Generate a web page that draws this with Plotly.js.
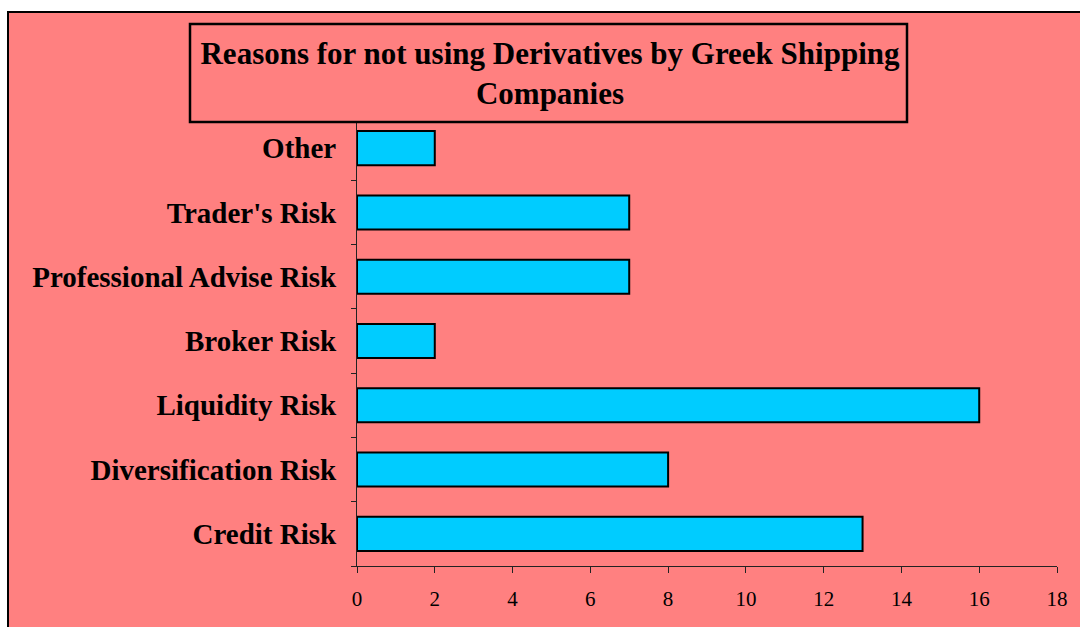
<!DOCTYPE html>
<html>
<head>
<meta charset="utf-8">
<script src="https://cdn.plot.ly/plotly-3.0.1.min.js"></script>
<style>html,body{margin:0;padding:0;background:#fff;}#chart{width:1080px;height:627px;}</style>
</head>
<body>
<div id="chart"></div>
<script>
const categories = ["Credit Risk", "Diversification Risk", "Liquidity Risk", "Broker Risk", "Professional Advise Risk", "Trader's Risk", "Other"];
const values = [13, 8, 16, 2, 7, 7, 2];
const xTicks = [0, 2, 4, 6, 8, 10, 12, 14, 16, 18];

const W = 1080, H = 627;
const L = 357, R = 1057, T = 116, B = 566;
const px = x => (x - L) / (R - L);
const py = y => (B - y) / (B - T);

const trace = {
  type: 'bar',
  orientation: 'h',
  x: values,
  y: categories,
  marker: {color: '#00CCFF', line: {color: '#000', width: 2}},
  hoverinfo: 'x+y'
};

const layout = {
  width: W, height: H,
  margin: {l: L, r: W - R, t: T, b: H - B, pad: 0},
  paper_bgcolor: '#ffffff',
  plot_bgcolor: 'rgba(0,0,0,0)',
  showlegend: false,
  bargap: 0.47,
  font: {family: '"Liberation Serif", "Times New Roman", serif', color: '#000'},
  title: {
    text: 'Reasons for not using Derivatives by Greek Shipping<br>Companies',
    font: {family: '"Liberation Serif", "Times New Roman", serif', size: 31, color: '#000', weight: 'bold'},
    x: px(550), xref: 'paper', xanchor: 'center',
    y: 1 - 64 / H, yref: 'container', yanchor: 'middle'
  },
  xaxis: {
    range: [0, 18],
    tickvals: xTicks,
    ticktext: xTicks.map(String),
    showgrid: false, zeroline: false,
    showline: true, linecolor: '#222', linewidth: 1,
    ticks: 'outside', ticklen: 6, tickcolor: '#222', tickwidth: 1,
    ticklabelstandoff: 8,
    tickfont: {size: 21, color: '#000'},
    fixedrange: true
  },
  yaxis: {
    type: 'category',
    categoryorder: 'array', categoryarray: categories,
    showgrid: false, zeroline: false,
    showline: true, linecolor: '#222', linewidth: 1,
    ticks: 'outside', ticklen: 5, tickcolor: '#222', tickwidth: 1,
    tickson: 'boundaries',
    ticklabelstandoff: 14,
    tickfont: {size: 29, color: '#000', weight: 'bold'},
    fixedrange: true
  },
  shapes: [
    {type: 'rect', xref: 'paper', yref: 'paper', layer: 'below',
     x0: px(8), x1: px(1095), y0: py(640), y1: py(12),
     fillcolor: '#FF8080', line: {color: '#000', width: 2}},
    {type: 'rect', xref: 'paper', yref: 'paper', layer: 'above',
     x0: px(190), x1: px(907), y0: py(122), y1: py(24),
     fillcolor: '#FF8080', line: {color: '#000', width: 2.5}}
  ]
};

Plotly.newPlot('chart', [trace], layout, {displayModeBar: false, staticPlot: true});
</script>
</body>
</html>
